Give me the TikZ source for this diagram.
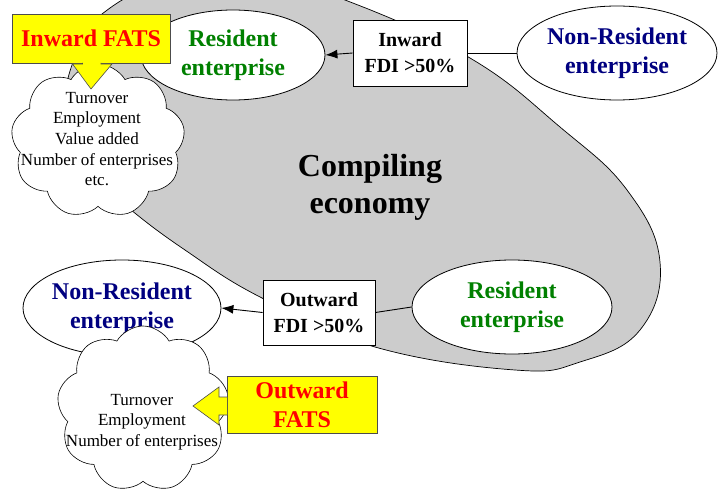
\documentclass[tikz,border=0pt]{standalone}
\usepackage{fontspec}
\setmainfont{Liberation Serif}
\usetikzlibrary{shapes.geometric,shapes.symbols,arrows.meta}
\definecolor{ecogray}{RGB}{204,204,204}
\definecolor{resgreen}{RGB}{0,128,0}
\definecolor{nonresblue}{RGB}{0,0,128}
\definecolor{fatsyellow}{RGB}{255,255,0}
\definecolor{fatsred}{RGB}{255,0,0}
\tikzset{
  entity/.style={ellipse, draw=black, line width=0.8pt, fill=white, minimum width=200pt, minimum height=94pt, inner sep=0pt, align=center, font=\fontsize{24}{29}\selectfont\bfseries},
  fdibox/.style={rectangle, draw=black, line width=0.8pt, fill=white, align=center, inner sep=0pt, font=\fontsize{20}{26}\selectfont\bfseries},
  fatsbox/.style={rectangle, draw=black!70, line width=0.8pt, fill=fatsyellow, align=center, inner sep=0pt, text=fatsred, font=\fontsize{24}{29}\selectfont\bfseries},
  puff/.style={cloud, cloud puffs=9, cloud puff arc=120, draw=black, line width=0.6pt, fill=white, inner sep=0pt},
  cloudtext/.style={align=center, inner sep=0pt, font=\fontsize{17}{20.7}\selectfont},
  link/.style={draw=black, line width=0.9pt},
  blockarrow/.style={fill=fatsyellow, draw=black!70, line width=0.6pt, line join=miter}
}
\begin{document}
\begin{tikzpicture}[x=1pt,y=-1pt]
\useasboundingbox (0,0) rectangle (718,495);
% compiling economy shape
\begin{scope}
\clip (0,0) rectangle (718,495);
\draw[fill=ecogray, draw=black, line width=0.7pt] plot[smooth cycle, tension=0.7] coordinates {
 (64,110) (80,45) (110,8) (170,-20) (240,-30) (345,0) (470,58) (560,127) (627,190) (660,262) (640,330) (580,362) (515,370) (375,347) (262,298) (185,250) (125,205) (82,165)};
\end{scope}
\node[font=\fontsize{32}{37}\selectfont\bfseries, align=center, inner sep=0pt] (econ) at (370,187) {Compiling\\economy};

% entities
\node[entity, text=resgreen, minimum width=184pt, minimum height=90pt] (resA) at (233,55) {Resident\\enterprise};
\node[entity, text=nonresblue] (nonresA) at (617,53) {Non-Resident\\enterprise};
\node[entity, text=nonresblue, minimum width=196pt, minimum height=96pt] (nonresB) at (122,308) {Non-Resident\\enterprise};
\node[entity, text=resgreen] (resB) at (512,307) {Resident\\enterprise};

% FDI boxes
\node[fdibox, minimum width=114pt, minimum height=66pt] (fdiIn) at (410,53) {Inward\\FDI >50\%};
\node[fdibox, minimum width=112pt, minimum height=65pt] (fdiOut) at (319,312.5) {Outward\\FDI >50\%};

% connectors
\draw[link, -{Latex[length=12pt,width=9pt]}] (fdiIn.west) -- (resA.east);
\draw[link] (fdiIn.east) -- (nonresA.west);
\draw[link, -{Latex[length=12pt,width=9pt]}] (fdiOut.west) -- (nonresB.east);
\draw[link] (fdiOut.east) -- (resB.west);

% clouds
\node[puff, minimum width=174pt, minimum height=154pt] (cloudA) at (98,141) {};
\node[cloudtext] (cloudAtext) at (97,139) {Turnover\\Employment\\Value added\\Number of enterprises\\etc.};
\node[puff, minimum width=172pt, minimum height=166pt] (cloudB) at (143,409) {};
\node[cloudtext] (cloudBtext) at (142,422) {Turnover\\Employment\\Number of enterprises};

% FATS boxes and block arrows
\node[fatsbox, minimum width=158pt, minimum height=49pt] (fatsIn) at (91,38.5) {Inward FATS};
\coordinate (tipIn) at (91,89);
\draw[blockarrow] (82.5,63) -- (82.5,64) -- (72.5,64) -- (tipIn) -- (112,64) -- (101,64) -- (101,63);

\node[fatsbox, minimum width=150pt, minimum height=57pt] (fatsOut) at (302,404.5) {Outward\\FATS};
\coordinate (tipOut) at (193,406);
\draw[blockarrow] (227,397) -- (219,397) -- (219,387) -- (tipOut) -- (219,425) -- (219,415) -- (227,415);
\end{tikzpicture}
\end{document}
